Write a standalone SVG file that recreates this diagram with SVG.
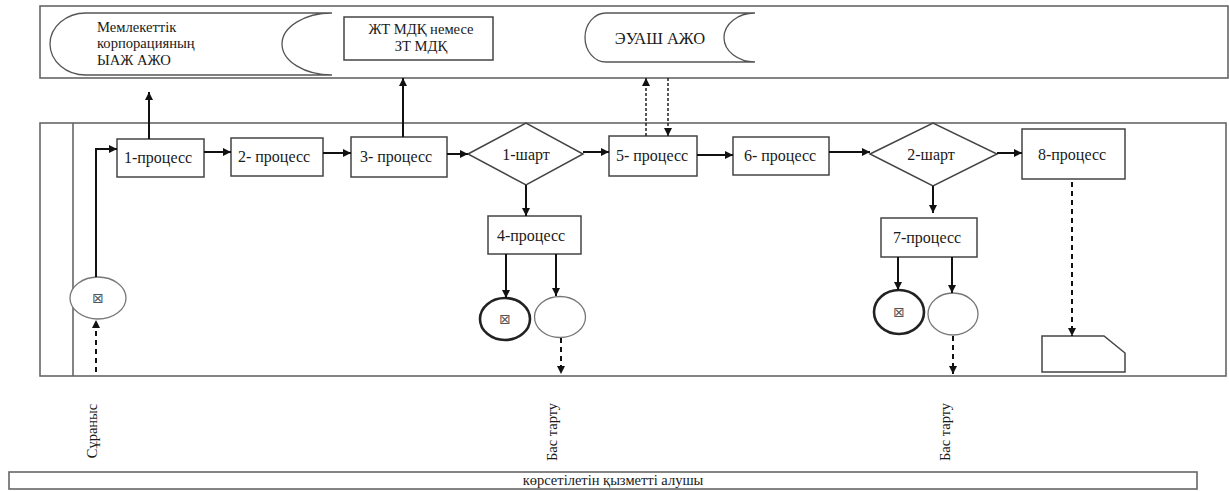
<svg xmlns="http://www.w3.org/2000/svg" width="1229" height="491" viewBox="0 0 1229 491" font-family="Liberation Serif, serif">
<style>
.pan{fill:#fff;stroke:#666;stroke-width:1.6}
.box{fill:#fff;stroke:#444;stroke-width:1.5}
text{font-family:'Liberation Serif','Times New Roman',serif}
.t{font-size:16px;fill:#1a1a1a}
.tp{font-size:16.5px}
.tl{font-size:14.6px}
.tm{text-anchor:middle}
.s{font-size:14.5px}
.c{fill:none;stroke:#111;stroke-width:2}
.d{fill:none;stroke:#111;stroke-width:2;stroke-dasharray:5 4}
.dd{fill:none;stroke:#222;stroke-width:1.5;stroke-dasharray:3 2}
.thin{fill:#fff;stroke:#777;stroke-width:1.3}
.bold{fill:#fff;stroke:#222;stroke-width:2.6}
text.sym{font-family:'DejaVu Sans',sans-serif;font-size:14px;fill:#555;text-anchor:middle}
</style>
<defs>
<marker id="a" viewBox="0 0 10 10" refX="10" refY="5" markerWidth="9" markerHeight="8" markerUnits="userSpaceOnUse" orient="auto">
<path d="M0,0 L10,5 L0,10 Z" fill="#111"/>
</marker>
</defs>

<g id="lanes">
<rect class="pan" x="40" y="6" width="1188" height="72"/>
<rect class="pan" x="40" y="123" width="1186" height="253"/>
<line x1="73" y1="123" x2="73" y2="376" stroke="#666" stroke-width="1.6"/>
<rect id="recipient" class="pan" x="9" y="472" width="1188" height="17"/>
<text class="t tm s" x="613" y="485">көрсетілетін қызметті алушы</text>
</g>

<g id="store1">
<path class="thin" style="stroke:#555" d="M86,13 L332,13 A50,31 0 0 0 332,75 L86,75 A36,31 0 0 1 86,13 Z"/>
<text class="t tl" x="97" y="31.5">Мемлекеттік</text>
<text class="t tl" x="97" y="48">корпорацияның</text>
<text class="t tl" x="97" y="64.5">ЫАЖ АЖО</text>
</g>

<g id="mdk">
<rect class="box" x="344" y="17" width="149" height="43"/>
<text class="t tm tl" x="421" y="34">ЖТ МДҚ немесе</text>
<text class="t tm tl" x="421" y="50.5">ЗТ МДҚ</text>
</g>

<g id="store2">
<path class="thin" style="stroke:#555" d="M606,13 L755,13 A31,24.5 0 0 0 755,62 L606,62 A21,24.5 0 0 1 606,13 Z"/>
<text class="t tm tp" x="660" y="44">ЭУАШ АЖО</text>
</g>

<g id="start">
<ellipse class="thin" cx="98" cy="298" rx="28" ry="21"/>
<text class="sym" x="98" y="303">⊠</text>
</g>

<g id="p1"><rect class="box" x="117" y="139" width="87" height="38"/><text class="t tm" x="158" y="163">1-процесс</text></g>
<g id="p2"><rect class="box" x="231" y="138" width="92" height="38"/><text class="t tm" x="274" y="162">2- процесс</text></g>
<g id="p3"><rect class="box" x="351" y="137" width="96" height="40"/><text class="t tm" x="396" y="162">3- процесс</text></g>
<g id="c1"><polygon class="box" points="468,154 526,123 583,154 526,185"/><text class="t tm" x="526" y="160">1-шарт</text></g>
<g id="p5"><rect class="box" x="609" y="136" width="88" height="40"/><text class="t tm" x="652" y="161">5- процесс</text></g>
<g id="p6"><rect class="box" x="733" y="137" width="96" height="38"/><text class="t tm" x="780" y="161">6- процесс</text></g>
<g id="c2"><polygon class="box" points="870,154 933,123 997,154 933,186"/><text class="t tm" x="931" y="160">2-шарт</text></g>
<g id="p8"><rect class="box" x="1022" y="129" width="103" height="50"/><text class="t tm" x="1072" y="160">8-процесс</text></g>
<g id="p4"><rect class="box" x="488" y="216" width="93" height="38"/><text class="t tm" x="531" y="241">4-процесс</text></g>
<g id="p7"><rect class="box" x="881" y="218" width="96" height="39"/><text class="t tm" x="927" y="243">7-процесс</text></g>

<g id="end1"><ellipse class="bold" cx="505" cy="319" rx="25" ry="21"/><text class="sym" x="505" y="324">⊠</text></g>
<g id="out1"><ellipse class="thin" cx="560" cy="317" rx="25.5" ry="20.5"/></g>
<g id="end2"><ellipse class="bold" cx="899" cy="312" rx="25" ry="22"/><text class="sym" x="899" y="317">⊠</text></g>
<g id="out2"><ellipse class="thin" cx="953" cy="314" rx="25" ry="21"/></g>

<g id="doc"><path class="box" d="M1042,336 L1104,336 L1125,353 L1125,372 L1042,372 Z"/></g>

<g id="connectors">
<path class="c" d="M96,277 L96,149 L117,149" marker-end="url(#a)"/>
<path class="d" d="M96,372 L96,320" marker-end="url(#a)"/>
<path class="c" d="M149,139 L149,92" marker-end="url(#a)"/>
<path class="c" d="M204,152 L231,152" marker-end="url(#a)"/>
<path class="c" d="M323,153 L351,153" marker-end="url(#a)"/>
<path class="c" d="M403,137 L403,78" marker-end="url(#a)"/>
<path class="c" d="M447,154 L468,154" marker-end="url(#a)"/>
<path class="c" d="M583,152 L609,152" marker-end="url(#a)"/>
<path class="dd" d="M646,136 L646,78" marker-end="url(#a)"/>
<path class="dd" d="M668,78 L668,136" marker-end="url(#a)"/>
<path class="c" d="M697,155 L733,155" marker-end="url(#a)"/>
<path class="c" d="M829,152 L870,152" marker-end="url(#a)"/>
<path class="c" d="M997,153 L1022,153" marker-end="url(#a)"/>
<path class="c" d="M526,185 L526,216" marker-end="url(#a)"/>
<path class="c" d="M506,254 L506,298" marker-end="url(#a)"/>
<path class="c" d="M556,254 L556,296" marker-end="url(#a)"/>
<path class="d" d="M561,338 L561,374" marker-end="url(#a)"/>
<path class="c" d="M933,186 L933,213" marker-end="url(#a)"/>
<path class="c" d="M898,257 L898,290" marker-end="url(#a)"/>
<path class="c" d="M952,257 L952,293" marker-end="url(#a)"/>
<path class="d" d="M953,336 L953,374" marker-end="url(#a)"/>
<path class="d" d="M1072,182 L1072,336" marker-end="url(#a)"/>
</g>

<g id="labels">
<text class="t tm s" transform="translate(97,431) rotate(-90)">Сұраныс</text>
<text class="t tm s" transform="translate(557,432) rotate(-90)">Бас тарту</text>
<text class="t tm s" transform="translate(950,432) rotate(-90)">Бас тарту</text>
</g>
</svg>
